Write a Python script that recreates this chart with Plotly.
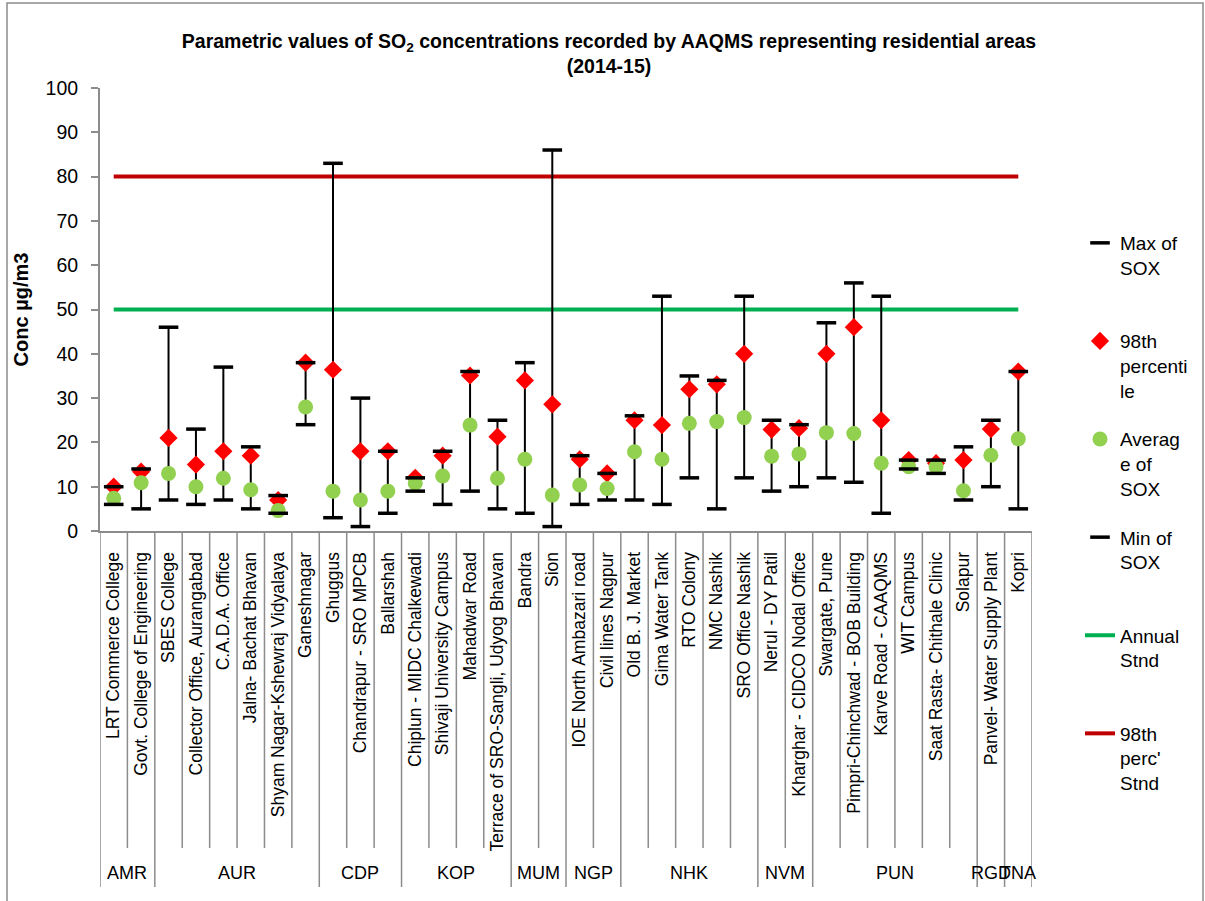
import plotly.graph_objects as go

# Monitoring stations (residential areas) and their region codes
sites = [
    "LRT Commerce College", "Govt. College of Engineering", "SBES College",
    "Collector Office, Aurangabad", "C.A.D.A. Office", "Jalna- Bachat Bhavan",
    "Shyam Nagar-Kshewraj Vidyalaya", "Ganeshnagar", "Ghuggus",
    "Chandrapur - SRO MPCB", "Ballarshah", "Chiplun - MIDC Chalkewadi",
    "Shivaji University Campus", "Mahadwar Road",
    "Terrace of SRO-Sangli, Udyog Bhavan", "Bandra", "Sion",
    "IOE North Ambazari road", "Civil lines Nagpur", "Old B. J. Market",
    "Gima Water Tank", "RTO Colony", "NMC Nashik", "SRO Office Nashik",
    "Nerul - DY Patil", "Kharghar - CIDCO Nodal Office", "Swargate, Pune",
    "Pimpri-Chinchwad - BOB Building", "Karve Road - CAAQMS", "WIT Campus",
    "Saat Rasta- Chithale Clinic", "Solapur", "Panvel- Water Supply Plant",
    "Kopri",
]
regions = ["AMR", "AMR", "AUR", "AUR", "AUR", "AUR", "AUR", "AUR", "CDP", "CDP",
           "CDP", "KOP", "KOP", "KOP", "KOP", "MUM", "MUM", "NGP", "NGP", "NHK",
           "NHK", "NHK", "NHK", "NHK", "NVM", "NVM", "PUN", "PUN", "PUN", "PUN",
           "PUN", "PUN", "RGD", "TNA"]

# SO2 statistics, µg/m3
max_sox = [10, 14, 46, 23, 37, 19, 8, 38, 83, 30, 18, 12, 18, 36, 25, 38, 86,
           17, 13, 26, 53, 35, 34, 53, 25, 24, 47, 56, 53, 16, 16, 19, 25, 36]
p98_sox = [10, 13.4, 21, 15, 18, 17, 7, 38, 36.4, 18, 18, 12, 17, 35.1, 21.3,
           34, 28.6, 16.2, 13, 25, 23.9, 32, 33.1, 40, 22.9, 23.2, 40, 46, 25,
           16, 15.3, 16, 23, 36]
avg_sox = [7.4, 10.9, 13, 10, 11.9, 9.3, 4.6, 28, 9, 7, 9, 10.8, 12.4, 23.9,
           11.9, 16.2, 8.1, 10.4, 9.6, 17.9, 16.2, 24.3, 24.7, 25.6, 16.9, 17.4,
           22.2, 22, 15.3, 14.5, 14.5, 9.1, 17.1, 20.8]
min_sox = [6, 5, 7, 6, 7, 5, 4, 24, 3, 1, 4, 9, 6, 9, 5, 4, 1, 6, 7, 7, 6, 12,
           5, 12, 9, 10, 12, 11, 4, 14, 13, 7, 10, 5]

# National ambient air quality standards for SO2
annual_stnd = 50
perc98_stnd = 80

y_ticks = [0, 10, 20, 30, 40, 50, 60, 70, 80, 90, 100]

# Layout geometry (pixels)
W, H = 1205, 901
ML, MR, MT, MB = 100, 173, 88, 370
PW, PH = W - ML - MR, H - MT - MB


def py(pix):
    """Pixel row -> paper y."""
    return (H - MB - pix) / PH


def px(pix):
    """Pixel column -> paper x."""
    return (pix - ML) / PW


FONT = "Liberation Sans, Arial, sans-serif"
GRID = "#8c8c8c"

xs = list(range(len(sites)))

fig = go.Figure()

# Standards lines
fig.add_trace(go.Scatter(
    x=xs, y=[annual_stnd] * len(sites), mode="lines",
    line=dict(color="#00B050", width=4), name="Annual<br>Stnd<br> ",
    legendrank=5, legendgroup="g5", hoverinfo="skip"))
fig.add_trace(go.Scatter(
    x=xs, y=[perc98_stnd] * len(sites), mode="lines",
    line=dict(color="#C00000", width=4), name="98th<br>perc'<br>Stnd",
    legendrank=6, legendgroup="g6", hoverinfo="skip"))

# High-low lines joining min and max of each station
hl_x, hl_y = [], []
for i, (lo, hi) in enumerate(zip(min_sox, max_sox)):
    hl_x += [i, i, None]
    hl_y += [lo, hi, None]
fig.add_trace(go.Scatter(
    x=hl_x, y=hl_y, mode="lines", line=dict(color="black", width=2),
    showlegend=False, hoverinfo="skip"))

fig.add_trace(go.Scatter(
    x=xs, y=p98_sox, mode="markers", name="98th<br>percenti<br>le",
    marker=dict(symbol="diamond", size=14, color="#FF0000"),
    legendrank=2, legendgroup="g2"))
fig.add_trace(go.Scatter(
    x=xs, y=avg_sox, mode="markers", name="Averag<br>e of<br>SOX",
    marker=dict(symbol="circle", size=15, color="#92D050"),
    legendrank=3, legendgroup="g3"))
fig.add_trace(go.Scatter(
    x=xs, y=min_sox, mode="markers", name="Min of<br>SOX<br> ",
    marker=dict(symbol="line-ew", size=14, line=dict(color="black", width=3.5)),
    legendrank=4, legendgroup="g4"))
fig.add_trace(go.Scatter(
    x=xs, y=max_sox, mode="markers", name="Max of<br>SOX<br> ",
    marker=dict(symbol="line-ew", size=14, line=dict(color="black", width=3.5)),
    legendrank=1, legendgroup="g1"))

shapes = []
# Category separators below the axis
for i in range(len(sites) + 1):
    new_group = i == 0 or i == len(sites) or regions[i] != regions[i - 1]
    shapes.append(dict(
        type="line", xref="x", yref="paper", x0=i - 0.5, x1=i - 0.5,
        y0=0, y1=py(887 if new_group else 848),
        line=dict(color=GRID, width=1.5)))

# Outer chart border
shapes.append(dict(
    type="rect", xref="paper", yref="paper",
    x0=px(7), x1=px(1203), y0=py(910), y1=py(3),
    line=dict(color=GRID, width=1.5), fillcolor="rgba(0,0,0,0)"))

# Region labels centred under each group of stations
annotations = []
start = 0
for i in range(1, len(sites) + 1):
    if i == len(sites) or regions[i] != regions[start]:
        annotations.append(dict(
            x=(start + i - 1) / 2, y=py(873), xref="x", yref="paper",
            text=regions[start], showarrow=False, xanchor="center",
            yanchor="middle", font=dict(family=FONT, size=18, color="black")))
        start = i

fig.update_layout(
    width=W, height=H,
    margin=dict(l=ML, r=MR, t=MT, b=MB, autoexpand=False),
    paper_bgcolor="white", plot_bgcolor="white",
    font=dict(family=FONT, size=19, color="black"),
    title=dict(
        text="<b>Parametric values of SO<sub>2</sub> concentrations recorded by "
             "AAQMS representing residential areas<br>(2014-15)</b>",
        x=609 / W, xanchor="center",
        y=1 - 48 / H, yanchor="middle", yref="container",
        font=dict(family=FONT, size=19.5, color="black")),
    xaxis=dict(
        range=[-0.5, len(sites) - 0.5], tickmode="array", tickvals=xs,
        ticktext=sites, tickangle=-90, ticks="outside", ticklen=12,
        tickcolor="rgba(0,0,0,0)", showgrid=False, zeroline=False,
        showline=True, linecolor=GRID, linewidth=2, automargin=False,
        tickfont=dict(family=FONT, size=17.5)),
    yaxis=dict(
        range=[0, 100], tickmode="array", tickvals=y_ticks, ticks="outside",
        ticklen=7, tickcolor=GRID, tickwidth=1.5, showgrid=False,
        zeroline=False, showline=True, linecolor=GRID, linewidth=2,
        ticklabelstandoff=9, tickfont=dict(family=FONT, size=19.5),
        automargin=False,
        title=dict(text="<b>Conc µg/m3</b>", standoff=12,
                   font=dict(family=FONT, size=20))),
    legend=dict(
        x=px(1080), xanchor="left", yref="container", y=1 - 224 / H,
        yanchor="top", valign="top", tracegroupgap=21,
        bgcolor="rgba(0,0,0,0)", font=dict(family=FONT, size=19),
        itemwidth=30, maxheight=1.0),
    shapes=shapes, annotations=annotations,
)

fig.write_html("out.html")
